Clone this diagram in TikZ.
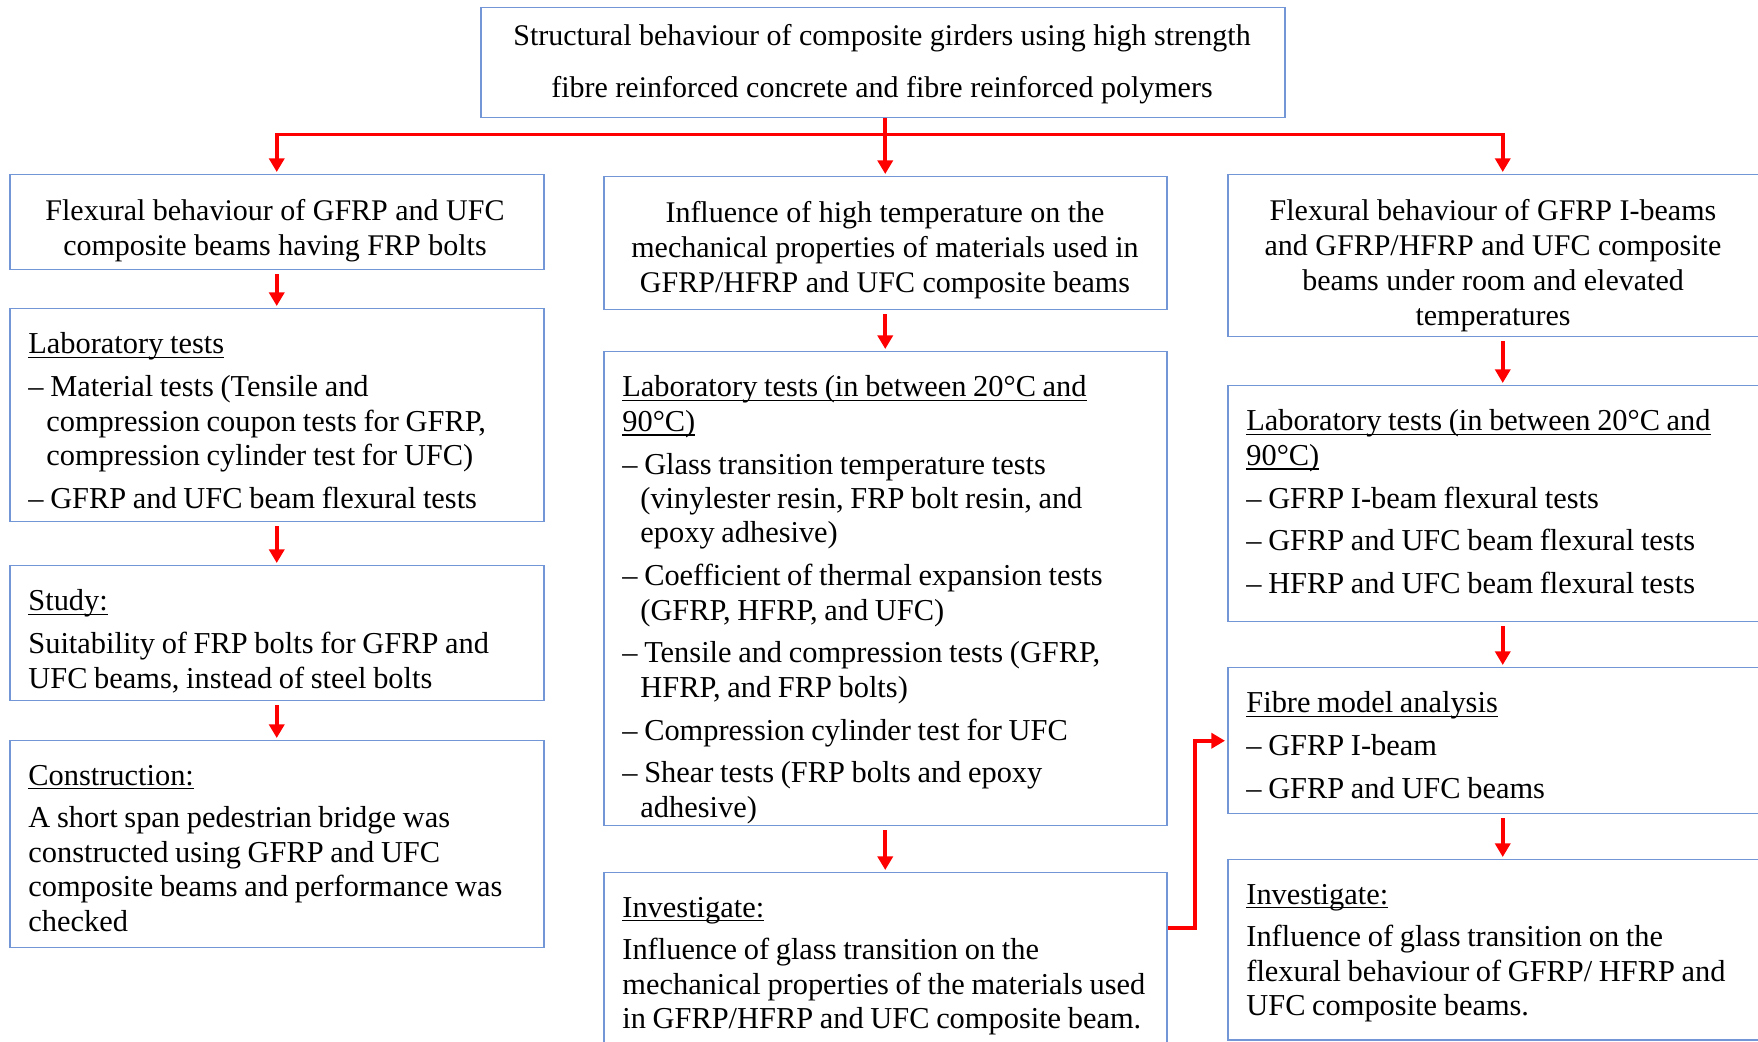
\documentclass[tikz,border=0pt]{standalone}
\usepackage{fontspec}
\setmainfont{Liberation Serif}
\usetikzlibrary{arrows.meta,calc}
\definecolor{boxblue}{RGB}{114,150,214}
\definecolor{arrred}{RGB}{255,0,0}
\newcommand\hd[1]{\leavevmode\setbox0=\hbox{#1}\rlap{\rule[-2.2pt]{\wd0}{0.7pt}}\box0}
\newcommand\itm{\par\hangindent=9pt\hangafter=1 –\ }
\newcommand\bodyset{\fontsize{15.2pt}{17.2pt}\selectfont\parindent=0pt\parskip=4.2pt\relax}
\tikzset{
  box/.style={draw=boxblue, line width=0.75pt, anchor=north west, inner sep=0pt},
  hdr/.style={align=center, inner sep=0pt, font=\fontsize{15pt}{17.5pt}\selectfont},
  txt/.style={anchor=north west, inner sep=0pt, text width=300pt, align=left},
  arr/.style={draw=arrred, line width=1.9pt, -{Triangle[width=7.5pt,length=6.8pt]}, shorten <=2pt, shorten >=1pt},
}
\begin{document}
\begin{tikzpicture}[x=0.5pt,y=-0.5pt]
\clip (0,0) rectangle (1758,1042);
% top
\node[box, minimum width=402pt, minimum height=55pt] (top) at (480,7) {};
\node[hdr, font=\fontsize{15pt}{25.8pt}\selectfont] (topt) at (882,64) {Structural behaviour of composite girders using high strength\\fibre reinforced concrete and fibre reinforced polymers};
% left column
\node[box, minimum width=267pt, minimum height=47.5pt] (L1) at (9,174) {};
\node[hdr] (L1t) at (275,231) {Flexural behaviour of GFRP and UFC\\composite beams having FRP bolts};
\node[box, minimum width=267pt, minimum height=106.5pt] (L2) at (9,308) {};
\node[txt] (L2t) at (28,332.5) {\bodyset\hd{Laboratory tests}\itm Material tests (Tensile and\newline compression coupon tests for GFRP,\newline compression cylinder test for UFC)\itm GFRP and UFC beam flexural tests\par};
\node[box, minimum width=267pt, minimum height=67.5pt] (L3) at (9,565) {};
\node[txt] (L3t) at (28,589.5) {\bodyset\hd{Study:}\par Suitability of FRP bolts for GFRP and\newline UFC beams, instead of steel bolts\par};
\node[box, minimum width=267pt, minimum height=103.5pt] (L4) at (9,740) {};
\node[txt] (L4t) at (28,764.5) {\bodyset\hd{Construction:}\par A short span pedestrian bridge was\newline constructed using GFRP and UFC\newline composite beams and performance was\newline checked\par};
% middle column
\node[box, minimum width=281.5pt, minimum height=66.5pt] (M1) at (603,176) {};
\node[hdr] (M1t) at (885,250) {Influence of high temperature on the\\mechanical properties of materials used in\\GFRP/HFRP and UFC composite beams};
\node[box, minimum width=281.5pt, minimum height=237pt] (M2) at (603,351) {};
\node[txt] (M2t) at (622,375.5) {\bodyset\hd{Laboratory tests (in between 20°C and}\newline\hd{90°C)}\itm Glass transition temperature tests\newline (vinylester resin, FRP bolt resin, and\newline epoxy adhesive)\itm Coefficient of thermal expansion tests\newline (GFRP, HFRP, and UFC)\itm Tensile and compression tests (GFRP,\newline HFRP, and FRP bolts)\itm Compression cylinder test for UFC\itm Shear tests (FRP bolts and epoxy\newline adhesive)\par};
\node[box, minimum width=281.5pt, minimum height=94pt] (M3) at (603,872) {};
\node[txt] (M3t) at (622,896.5) {\bodyset\hd{Investigate:}\par Influence of glass transition on the\newline mechanical properties of the materials used\newline in GFRP/HFRP and UFC composite beam.\par};
% right column
\node[box, minimum width=275pt, minimum height=81pt] (R1) at (1227,174) {};
\node[hdr] (R1t) at (1493,266) {Flexural behaviour of GFRP I-beams\\and GFRP/HFRP and UFC composite\\beams under room and elevated\\temperatures};
\node[box, minimum width=275pt, minimum height=118pt] (R2) at (1227,385) {};
\node[txt] (R2t) at (1246,409.5) {\bodyset\hd{Laboratory tests (in between 20°C and}\newline\hd{90°C)}\itm GFRP I-beam flexural tests\itm GFRP and UFC beam flexural tests\itm HFRP and UFC beam flexural tests\par};
\node[box, minimum width=275pt, minimum height=73pt] (R3) at (1227,667) {};
\node[txt] (R3t) at (1246,691.5) {\bodyset\hd{Fibre model analysis}\itm GFRP I-beam\itm GFRP and UFC beams\par};
\node[box, minimum width=275pt, minimum height=90pt] (R4) at (1227,859) {};
\node[txt] (R4t) at (1246,883.5) {\bodyset\hd{Investigate:}\par Influence of glass transition on the\newline flexural behaviour of GFRP/ HFRP and\newline UFC composite beams.\par};
% connectors
\coordinate (bus) at (884.5,134.5);
\draw[arr, shorten <=0pt] (M1.north |- top.south) -- (M1.north);
\draw[arr, shorten <=0pt] (bus) -| (L1.north);
\draw[arr, shorten <=0pt] (bus) -| (R1.north);
\draw[arr] (L1.south) -- (L2.north);
\draw[arr] (L2.south) -- (L3.north);
\draw[arr] (L3.south) -- (L4.north);
\draw[arr] (M1.south) -- (M2.north);
\draw[arr] (M2.south) -- (M3.north);
\draw[arr] (R1.south) -- (R2.north);
\draw[arr] (R2.south) -- (R3.north);
\draw[arr] (R3.south) -- (R4.north);
\draw[arr, shorten <=0pt] ($(M3.north east)+(0,56)$) -| ($(R3.west)+(-32,0)$) -- (R3.west);
\end{tikzpicture}
\end{document}
